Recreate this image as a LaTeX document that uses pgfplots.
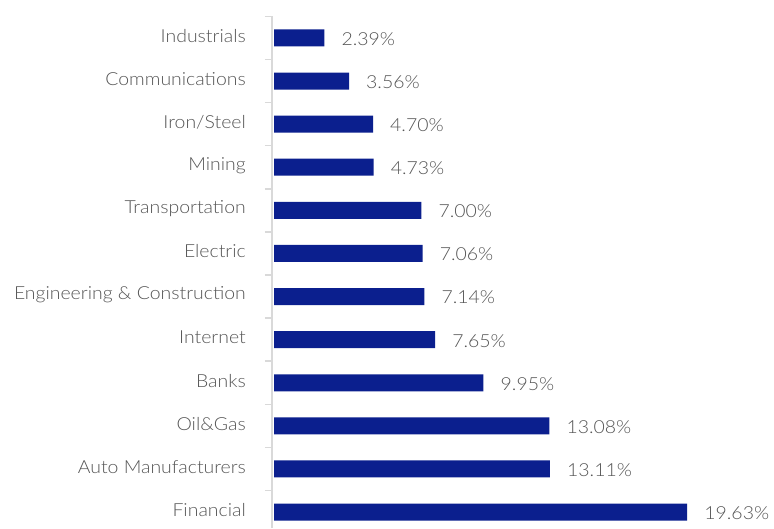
\documentclass[border=0pt]{standalone}
\usepackage{pgfplots}
\pgfplotsset{compat=1.18}
\usepackage{fontspec}
\setmainfont{Lato Light}[FakeStretch=1.08]
\definecolor{barblue}{RGB}{11,31,142}
\definecolor{txt}{RGB}{85,85,85}
\definecolor{axgray}{RGB}{217,217,217}
\begin{document}
\begin{tikzpicture}
\useasboundingbox (-272pt,0pt) rectangle (502pt,528pt);
\begin{axis}[
  at={(0pt,0pt)}, anchor=south west,
  scale only axis, width=484pt, height=511.6pt,
  xmin=-0.1, xmax=22.9, ymin=-0.37, ymax=11.5,
  xbar, bar width=17pt,
  axis x line=none, axis y line=left,
  axis line style={-, draw=axgray, line width=1.5pt},
  ytick={0,...,11},
  yticklabels={Financial, Auto Manufacturers, Oil\&Gas, Banks, Internet, Engineering \& Construction, Electric, Transportation, Mining, Iron/Steel, Communications, Industrials},
  major tick length=0pt,
  minor ytick={0.5,1.5,...,11.5},
  minor tick length=7pt, tick align=outside,
  minor tick style={draw=axgray, line width=1.5pt},
  yticklabel style={inner sep=0pt, xshift=-26pt, yshift=2pt, font=\fontsize{18}{20}\selectfont, text=txt},
  nodes near coords, point meta=explicit symbolic,
  nodes near coords style={anchor=west, inner sep=0pt, xshift=17pt, yshift=-1pt, font=\fontsize{18}{20}\selectfont, text=txt},
  clip=false
]
\addplot[fill=barblue, draw=none] coordinates {
  (19.63,0) [19.63\%]
  (13.11,1) [13.11\%]
  (13.08,2) [13.08\%]
  (9.95,3) [9.95\%]
  (7.65,4) [7.65\%]
  (7.14,5) [7.14\%]
  (7.06,6) [7.06\%]
  (7.00,7) [7.00\%]
  (4.73,8) [4.73\%]
  (4.70,9) [4.70\%]
  (3.56,10) [3.56\%]
  (2.39,11) [2.39\%]
};
\end{axis}
\end{tikzpicture}
\end{document}
